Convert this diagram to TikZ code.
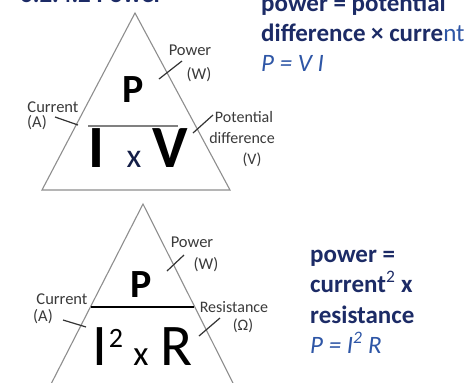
\documentclass[tikz,border=0pt]{standalone}
\usepackage{fontspec}
\setmainfont{Carlito}
\definecolor{navy}{HTML}{1C2B66}
\definecolor{eqblue}{HTML}{2E56A6}
\definecolor{lblgrey}{HTML}{3A3A3A}
\definecolor{trigrey}{HTML}{8E8E8E}
\tikzset{
  tri/.style={draw=trigrey, line width=1.1pt, line join=miter},
  tick/.style={draw=black!80, line width=1.2pt},
  lbl/.style={text=lblgrey, font=\fontsize{16.5}{16.5}\selectfont, inner sep=0pt, anchor=base},
  slbl/.style={lbl, font=\fontsize{16}{16}\selectfont},
  big/.style={inner sep=0pt, anchor=base, text=black},
  rtext/.style={inner sep=0pt, anchor=base west, text=navy, font=\fontsize{25}{25}\selectfont\bfseries},
  reqn/.style={inner sep=0pt, anchor=base west, text=eqblue, font=\fontsize{25}{25}\selectfont\itshape},
}
\begin{document}
\begin{tikzpicture}[x=1pt,y=-1pt]
\useasboundingbox (0,0) rectangle (475,383);
\clip (0,0) rectangle (475,383);
\fill[white] (0,0) rectangle (475,383);

% title (cut off at top)
\node[rtext, anchor=base west] (title) at (20,2) {6.2.4.2 Power};

% ---------- top triangle ----------
\coordinate (ta) at (135,13);
\coordinate (tl) at (42,190);
\coordinate (tr) at (230,190);
\draw[tri] (ta) -- (tl) -- (tr) -- cycle;
\coordinate (td1) at (88,126);
\coordinate (td2) at (178,126);
\draw[draw=trigrey!90!black, line width=1.2pt] (td1) -- (td2);

\node[big, font=\fontsize{40}{40}\selectfont\bfseries] (tP) at (133,102) {P};
\node[big, font=\fontsize{60}{60}\selectfont\bfseries] (tI) at (96,167) {I};
\node[big, font=\fontsize{34}{34}\selectfont, text=navy!70!black] (tx) at (134,167) {x};
\node[big, font=\fontsize{60}{60}\selectfont\bfseries] (tV) at (170,167) {V};

% labels top
\node[lbl] (tpow) at (190,55) {Power};
\node[lbl] (tpowu) at (199,79) {(W)};
\coordinate (tpk1) at (159,79);
\coordinate (tpk2) at (182,61);
\draw[tick] (tpk1) -- (tpk2);

\node[lbl] (tcur) at (53,112) {Current};
\node[lbl] (tcuru) at (37,127) {(A)};
\coordinate (tck1) at (55,117);
\coordinate (tck2) at (78,125);
\draw[tick] (tck1) -- (tck2);

\node[slbl] (tpd1) at (244,122) {Potential};
\node[slbl] (tpd2) at (242,143) {difference};
\node[slbl] (tpd3) at (252,164) {(V)};
\coordinate (tvk1) at (193,133);
\coordinate (tvk2) at (213,115);
\draw[tick] (tvk1) -- (tvk2);

% right text top
\node[rtext] (r1) at (261,11) {power = potential};
\node[rtext] (r2) at (261,41) {difference × curre\mdseries\color{eqblue}nt};
\node[reqn] (r3) at (261,71) {P = V I};

% ---------- bottom triangle ----------
\coordinate (ba) at (143,204);
\coordinate (bl) at (48,390);
\coordinate (br) at (236.5,390);
\draw[tri] (ba) -- (bl) -- (br) -- cycle;
\coordinate (bd1) at (91,307);
\coordinate (bd2) at (194,307);
\draw[black, line width=2pt] (bd1) -- (bd2);

\node[big, font=\fontsize{40}{40}\selectfont\bfseries] (bP) at (141,297) {P};
\node[big, font=\fontsize{59}{59}\selectfont] (bI) at (99.5,365) {I};
\node[big, font=\fontsize{28}{28}\selectfont] (b2) at (116,347) {2};
\node[big, font=\fontsize{35}{35}\selectfont] (bx) at (141,365) {x};
\node[big, font=\fontsize{59}{59}\selectfont] (bR) at (177,365) {R};

\node[lbl] (bpow) at (192,247) {Power};
\node[lbl] (bpowu) at (206,269) {(W)};
\coordinate (bpk1) at (167,271);
\coordinate (bpk2) at (184,255);
\draw[tick] (bpk1) -- (bpk2);

\node[lbl] (bcur) at (62,304) {Current};
\node[lbl] (bcuru) at (43,321) {(A)};
\coordinate (bck1) at (63,320);
\coordinate (bck2) at (86,327);
\draw[tick] (bck1) -- (bck2);

\node[slbl] (bres) at (234,312) {Resistance};
\node[slbl] (bresu) at (243,330) {(Ω)};
\coordinate (brk1) at (199,336);
\coordinate (brk2) at (220,318);
\draw[tick] (brk1) -- (brk2);

% right text bottom
\node[rtext] (s1) at (310,262) {power =};
\node[rtext] (s2) at (310,292) {current\textsuperscript{\mdseries 2} x};
\node[rtext] (s3) at (310,323) {resistance};
\node[reqn] (s4) at (310,353) {P = I\textsuperscript{2} R};
\end{tikzpicture}
\end{document}
